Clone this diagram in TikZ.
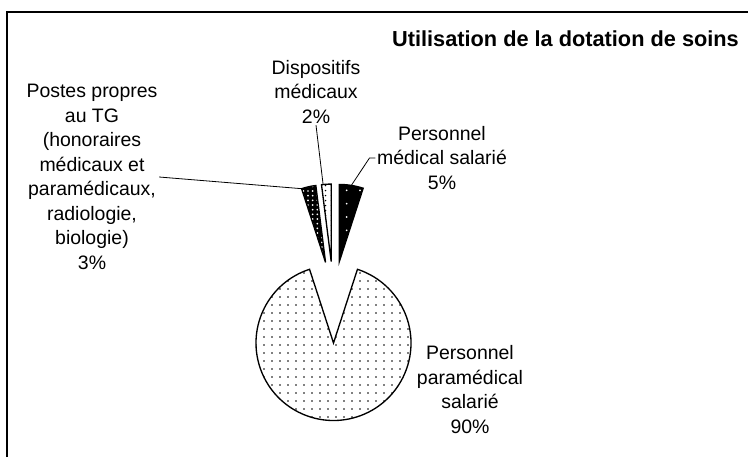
\documentclass[tikz,border=0pt]{standalone}
\usepackage{fontspec}
\setmainfont{Liberation Sans}
\usetikzlibrary{calc, patterns.meta}

\tikzset{
  slice/.style={draw=black, line width=1pt, line join=miter},
  leader/.style={draw=black, line width=0.6pt},
  piece label/.style={align=center, inner sep=1pt, font=\fontsize{14.6}{18.4}\selectfont},
}

\begin{document}
\begin{tikzpicture}[x=0.75pt, y=0.75pt]
    \useasboundingbox (0,0) rectangle (748,457);
    \draw[line width=0.9pt] (7,0) -- (7,445) -- (748,445);
    \node[anchor=base east, inner sep=0pt, font=\fontsize{16.3}{19}\selectfont\bfseries] (title) at (739,410) {Utilisation de la dotation de soins};

    % pie: centre and radius
    \coordinate (c) at (333.5,159);
    \def\pieR{77.5}

    % the big piece, pulled down
    \draw[slice, preaction={fill=white}, pattern={Dots[distance=6pt, radius=0.7pt]}, pattern color=black]
        ($(c)+(270:45)$) -- ++(108:\pieR) arc[start angle=108, end angle=432, radius=\pieR] -- cycle;

    % the three small pieces, pulled up
    \foreach \a/\b/\bg/\dotc/\dist in {72/90/black/white/10pt, 90/97.2/white/black/4pt, 97.2/108/black/white/3.5pt} {
        \pgfmathsetmacro{\mid}{(\a+\b)/2}
        \draw[slice, preaction={fill=\bg}, pattern={Dots[distance=\dist, radius=0.7pt]}, pattern color=\dotc]
            ($(c)+(\mid:36.5)$) -- ++(\a:\pieR) arc[start angle=\a, end angle=\b, radius=\pieR] -- cycle;
    }
    \coordinate (tipmed) at ($(c)+(81:36.5)+(81:\pieR)$);
    \coordinate (tipdispo) at ($(c)+(93.6:36.5)+(96:\pieR)$);
    \coordinate (tippostes) at ($(c)+(102.6:36.5)+(108:\pieR)$);

    % labels
    \node[piece label] (postes) at (92,280) {Postes propres\\au TG\\(honoraires\\médicaux et\\paramédicaux,\\radiologie,\\biologie)\\3\%};
    \node[piece label] (dispo) at (316,365) {Dispositifs\\médicaux\\2\%};
    \node[piece label] (medical) at (442,299) {Personnel\\médical salarié\\5\%};
    \node[piece label] (paramed) at (470,67.5) {Personnel\\paramédical\\salarié\\90\%};

    \draw[leader] (postes.east) -- (tippostes);
    \draw[leader] (dispo.south) -- (tipdispo);
    \draw[leader] (medical.west) -- ++(-6,0) -- (tipmed);
\end{tikzpicture}
\end{document}
